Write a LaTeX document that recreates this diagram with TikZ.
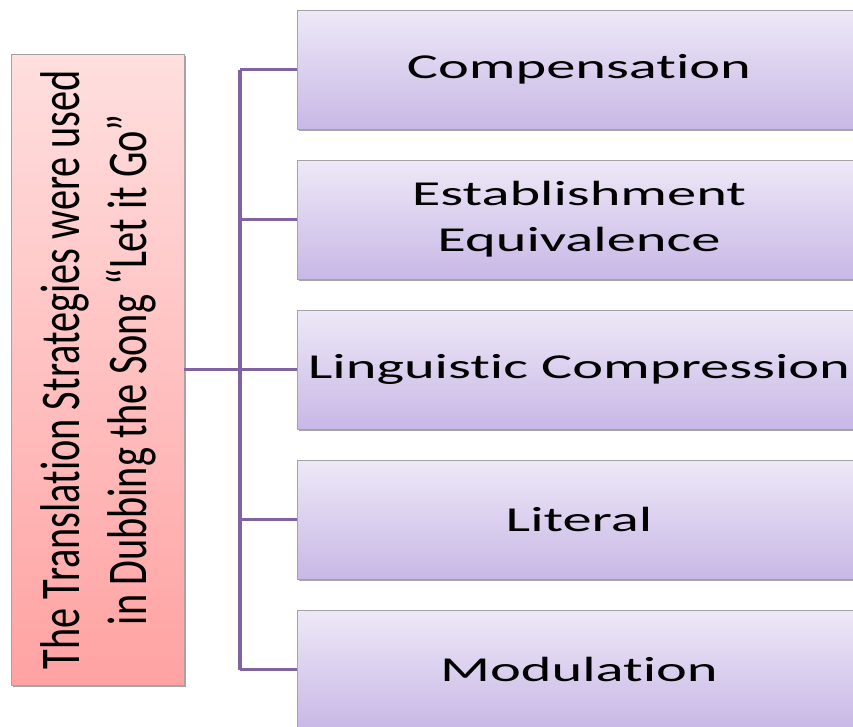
\documentclass[tikz,border=0pt]{standalone}
\usepackage{fontspec}
\setmainfont{Carlito}
\newfontfamily\sidefont{Carlito}[FakeStretch=0.72, RawFeature={-liga;-clig;-calt;-dlig}]
\newfontfamily\stratfont{Carlito}[FakeStretch=1.67, RawFeature={-liga;-clig;-calt;-dlig}]
\usepackage{xcolor}
\usetikzlibrary{positioning,shadows}
\definecolor{sidetop}{HTML}{FFDFDF}
\definecolor{sidebot}{HTML}{FFA2A2}
\definecolor{strattop}{HTML}{EEE8F7}
\definecolor{stratbot}{HTML}{C8B8E6}
\definecolor{linkpurple}{HTML}{8064A2}
\definecolor{edgegray}{HTML}{A3A3A3}

\tikzset{
  boxshadow/.style={drop shadow={shadow xshift=1.5pt, shadow yshift=-2pt, opacity=0.35, fill=black}},
  sidebox/.style={draw=edgegray, line width=0.8pt, top color=sidetop, bottom color=sidebot,
    minimum width=173pt, minimum height=631pt, inner sep=0pt, outer sep=0pt, boxshadow},
  stratbox/.style={draw=edgegray, line width=0.8pt, top color=strattop, bottom color=stratbot,
    minimum width=564pt, minimum height=119pt, inner sep=0pt, outer sep=0pt, align=center, boxshadow,
    font=\stratfont\fontsize{35}{46}\selectfont},
  link/.style={linkpurple, line width=3.4pt}
}

\begin{document}
\begin{tikzpicture}[x=1pt, y=-1pt]
  \useasboundingbox (0,0) rectangle (853,726);

  % ── The strategy boxes ──
  \node[stratbox] (comp) at (579,69.5) {Compensation};
  \node[stratbox, below=31pt of comp] (estab) {Establishment\\Equivalence};
  \node[stratbox, below=31pt of estab] (ling) {Linguistic Compression};
  \node[stratbox, below=31pt of ling] (lit) {Literal};
  \node[stratbox, below=31pt of lit] (modul) {Modulation};

  % ── The title box ──
  \node[sidebox] (side) at (97.5,369.5) {};
  \node[rotate=90, align=center, font=\sidefont\fontsize{56}{67}\selectfont]
    (title) at ([xshift=1pt]side.center)
    {The Translation Strategies were used\\in Dubbing the Song “Let it Go”};

  % ── Connectors ──
  \coordinate (spine) at (240,0);
  \draw[link] (side.east) -- (ling.west);
  \draw[link] (comp.west -| spine) -- (modul.west -| spine);
  \draw[link] (comp.west) -- (comp.west -| spine);
  \draw[link] (estab.west) -- (estab.west -| spine);
  \draw[link] (lit.west) -- (lit.west -| spine);
  \draw[link] (modul.west) -- (modul.west -| spine);
\end{tikzpicture}
\end{document}
